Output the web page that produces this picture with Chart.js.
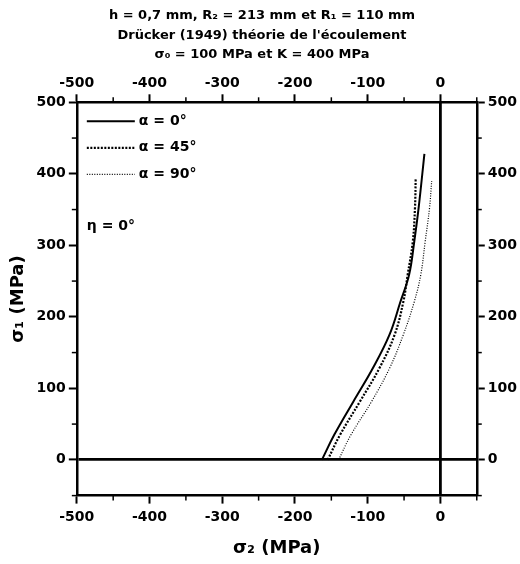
<!DOCTYPE html>
<html lang="fr">
<head>
<meta charset="UTF-8">
<title>Drücker (1949) théorie de l'écoulement</title>
<style>
  body { margin: 0; background: #fff; }
  #box { width: 520px; height: 564px; }
</style>
</head>
<body>
<div id="box"><canvas id="chart" width="520" height="564"></canvas></div>
<script src="https://cdn.jsdelivr.net/npm/chart.js"></script>
<script>
// valeurs (MPa) : sigma2 en abscisse, sigma1 en ordonnée
const s2Alpha0  = [-163, -146, -120, -93, -70, -55, -43, -36, -30, -22];
const s1Alpha0  = [0, 35, 81, 128, 175, 221, 259, 305, 352, 428];

const s2Alpha45 = [-155, -138, -111, -84, -63, -51, -45, -38, -35, -34];
const s1Alpha45 = [0, 35, 81, 128, 175, 221, 259, 305, 352, 393];

const s2Alpha90 = [-140, -123, -95, -70, -51, -36, -27, -21, -15, -12];
const s1Alpha90 = [0, 35, 81, 128, 175, 221, 259, 305, 352, 390];

const seriesLabels = ['α = 0°', 'α = 45°', 'α = 90°'];
const titleLines = [
  'h = 0,7 mm, R₂ = 213 mm et R₁ = 110 mm',
  'Drücker (1949) théorie de l\'écoulement',
  'σ₀ = 100 MPa et K = 400 MPa'
];
const note = 'η = 0°';

const pts = (xs, ys) => xs.map((x, i) => ({ x: x, y: ys[i] }));

Chart.defaults.font.family = 'DejaVu Sans';
Chart.defaults.font.weight = 'bold';
Chart.defaults.color = '#000';

const major = v => v % 100 === 0;
const tickLabel = v => (major(v) ? v : '');

// ticks principaux par Chart.js, petits ticks ajoutés ici
const minorTicks = {
  id: 'minorTicks',
  afterDraw(chart) {
    const c = chart.ctx;
    c.save();
    c.strokeStyle = '#000';
    c.lineWidth = 1.5;
    ['x', 'xTop', 'y', 'yRight'].forEach(id => {
      const s = chart.scales[id];
      s.ticks.forEach(t => {
        if (major(t.value)) return;
        const p = s.getPixelForValue(t.value);
        c.beginPath();
        if (id === 'x') { c.moveTo(p, s.top); c.lineTo(p, s.top + 5); }
        if (id === 'xTop') { c.moveTo(p, s.bottom); c.lineTo(p, s.bottom - 5); }
        if (id === 'y') { c.moveTo(s.right, p); c.lineTo(s.right - 5, p); }
        if (id === 'yRight') { c.moveTo(s.left, p); c.lineTo(s.left + 5, p); }
        c.stroke();
      });
    });
    c.restore();
  }
};

// légende dans le cadre, en haut à gauche
const innerLegend = {
  id: 'innerLegend',
  afterDraw(chart) {
    const c = chart.ctx;
    const a = chart.chartArea;
    c.save();
    c.font = 'bold 14px "DejaVu Sans"';
    c.fillStyle = '#000';
    c.textBaseline = 'middle';
    chart.data.datasets.forEach((ds, i) => {
      const y = a.top + 19 + i * 26.5;
      c.strokeStyle = '#000';
      c.lineWidth = ds.borderWidth;
      c.setLineDash(ds.borderDash || []);
      c.beginPath();
      c.moveTo(a.left + 10, y);
      c.lineTo(a.left + 58, y);
      c.stroke();
      c.setLineDash([]);
      c.fillText(ds.label, a.left + 62, y);
    });
    c.fillText(note, a.left + 10, a.top + 124);
    c.restore();
  }
};

const tickColor = ctx => (major(ctx.tick.value) ? '#000' : 'rgba(0,0,0,0)');
const zeroColor = ctx => (ctx.tick && ctx.tick.value === 0 ? '#000' : 'rgba(0,0,0,0)');
const zeroWidth = ctx => (ctx.tick && ctx.tick.value === 0 ? 2.8 : 1);
const border = { display: true, color: '#000', width: 2.5 };
const tickFont = { size: 14, weight: 'bold' };

const curve = (label, xs, ys, width, dash) => ({
  label: label,
  data: pts(xs, ys),
  borderColor: '#000',
  borderWidth: width,
  borderDash: dash,
  showLine: true,
  pointRadius: 0,
  tension: 0.4
});

new Chart(document.getElementById('chart'), {
  type: 'scatter',
  data: {
    datasets: [
      curve(seriesLabels[0], s2Alpha0, s1Alpha0, 2, []),
      curve(seriesLabels[1], s2Alpha45, s1Alpha45, 2.2, [2, 1.5]),
      curve(seriesLabels[2], s2Alpha90, s1Alpha90, 1.2, [1, 1.5])
    ]
  },
  options: {
    responsive: false,
    animation: false,
    devicePixelRatio: 1,
    layout: { padding: { left: 4, right: 0, top: 0, bottom: 1 } },
    plugins: {
      legend: { display: false },
      tooltip: { enabled: false },
      title: {
        display: true,
        text: titleLines,
        color: '#000',
        font: { size: 13, weight: 'bold', lineHeight: 1.5 },
        padding: { top: 6, bottom: 7 }
      }
    },
    scales: {
      x: {
        type: 'linear',
        position: 'bottom',
        min: -500,
        max: 50,
        border: border,
        grid: { drawOnChartArea: true, color: zeroColor, lineWidth: zeroWidth, tickColor: tickColor, tickWidth: 2, tickLength: 8 },
        ticks: { stepSize: 50, autoSkip: false, maxRotation: 0, padding: 5, font: tickFont, callback: tickLabel },
        title: { display: true, text: 'σ₂ (MPa)', font: { size: 18, weight: 'bold' }, padding: { top: 7, bottom: 4 } }
      },
      xTop: {
        type: 'linear',
        position: 'top',
        min: -500,
        max: 50,
        border: border,
        grid: { drawOnChartArea: false, tickColor: tickColor, tickWidth: 2, tickLength: 8 },
        ticks: { stepSize: 50, autoSkip: false, maxRotation: 0, padding: 3, font: tickFont, callback: tickLabel }
      },
      y: {
        type: 'linear',
        position: 'left',
        min: -50,
        max: 500,
        border: border,
        grid: { drawOnChartArea: true, color: zeroColor, lineWidth: zeroWidth, tickColor: tickColor, tickWidth: 2, tickLength: 8 },
        ticks: { stepSize: 50, autoSkip: false, padding: 3, font: tickFont, callback: tickLabel },
        title: { display: true, text: 'σ₁ (MPa)', font: { size: 18, weight: 'bold' }, padding: { top: 4, bottom: 4 } }
      },
      yRight: {
        type: 'linear',
        position: 'right',
        min: -50,
        max: 500,
        border: border,
        grid: { drawOnChartArea: false, tickColor: tickColor, tickWidth: 2, tickLength: 8 },
        ticks: { stepSize: 50, autoSkip: false, padding: 3, font: tickFont, callback: tickLabel }
      }
    }
  },
  plugins: [minorTicks, innerLegend]
});
</script>
</body>
</html>
